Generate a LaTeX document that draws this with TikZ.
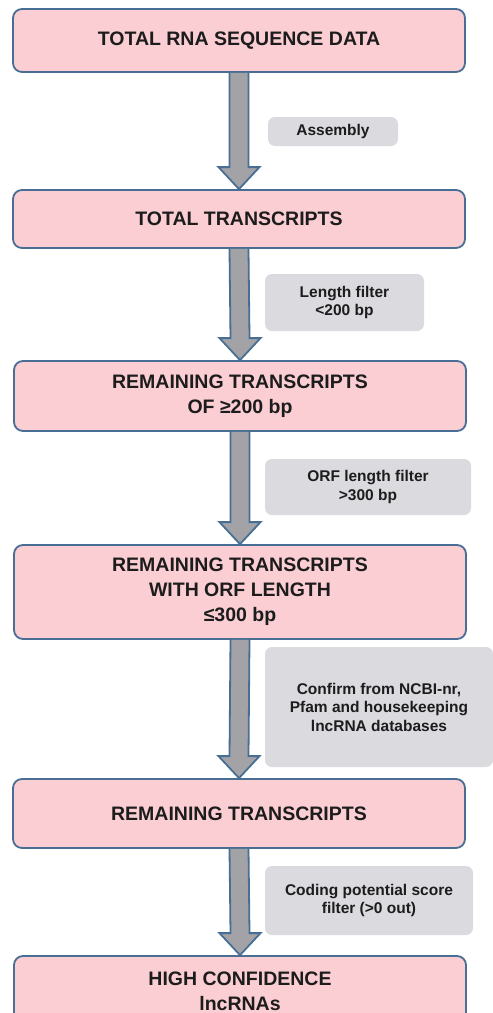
\documentclass[tikz,border=0pt]{standalone}
\usepackage{fontspec}
\setmainfont{Liberation Sans}
\definecolor{boxpink}{RGB}{250,206,211}
\definecolor{boxline}{RGB}{72,110,148}
\definecolor{arrowgray}{RGB}{163,163,167}
\definecolor{notegray}{RGB}{218,218,223}
\definecolor{txt}{RGB}{28,28,28}
\begin{document}
\begin{tikzpicture}[x=1bp, y=-1bp,
    stage/.style={draw=boxline, line width=1.8bp, fill=boxpink, rounded corners=9bp, minimum width=452bp, align=center, text=txt, font=\fontsize{19.5bp}{25bp}\selectfont\bfseries, inner sep=0pt},
    note/.style={fill=notegray, rounded corners=7bp, align=center, text=txt, font=\fontsize{15.5bp}{18.5bp}\selectfont\bfseries, inner sep=0pt},
    fat/.style={draw=boxline, line width=1.8bp, fill=arrowgray, line join=miter}]
    \useasboundingbox (0,0) rectangle (493,1013);

    % main stages
    \node[stage, minimum height=63bp](s1) at (239, 40.5) {TOTAL RNA SEQUENCE DATA};
    \node[stage, minimum height=58bp](s2) at (239, 219) {TOTAL TRANSCRIPTS};
    \node[stage, minimum height=70bp](s3) at (240, 396) {REMAINING TRANSCRIPTS\\OF ≥200 bp};
    \node[stage, minimum height=94bp](s4) at (240, 592) {REMAINING TRANSCRIPTS\\WITH ORF LENGTH\\≤300 bp};
    \node[stage, minimum height=69bp](s5) at (239, 813.5) {REMAINING TRANSCRIPTS};
    \node[stage, minimum height=70bp](s6) at (240, 991) {HIGH CONFIDENCE\\lncRNAs};

    % filters
    \node[note, minimum width=130bp, minimum height=29bp](f1) at (333, 131.5) {Assembly};
    \node[note, minimum width=159bp, minimum height=57bp](f2) at (344.5, 302.5) {Length filter\\<200 bp};
    \node[note, minimum width=206bp, minimum height=56bp](f3) at (368, 487) {ORF length filter\\>300 bp};
    \node[note, minimum width=228bp, minimum height=120bp](f4) at (379, 707) {Confirm from NCBI-nr,\\Pfam and housekeeping\\lncRNA databases};
    \node[note, minimum width=208bp, minimum height=69bp](f5) at (369, 900.5) {Coding potential score\\filter (>0 out)};

    % block arrows
    \foreach \a/\b in {s1/s2, s2/s3, s3/s4, s4/s5, s5/s6}
        \draw[fat] ([xshift=-9.5bp]\a.south) -- ([xshift=-9.5bp, yshift=22bp]\b.north)
            -- ([xshift=-20.5bp, yshift=22bp]\b.north) -- (\b.north)
            -- ([xshift=20.5bp, yshift=22bp]\b.north) -- ([xshift=9.5bp, yshift=22bp]\b.north)
            -- ([xshift=9.5bp]\a.south);
\end{tikzpicture}
\end{document}
